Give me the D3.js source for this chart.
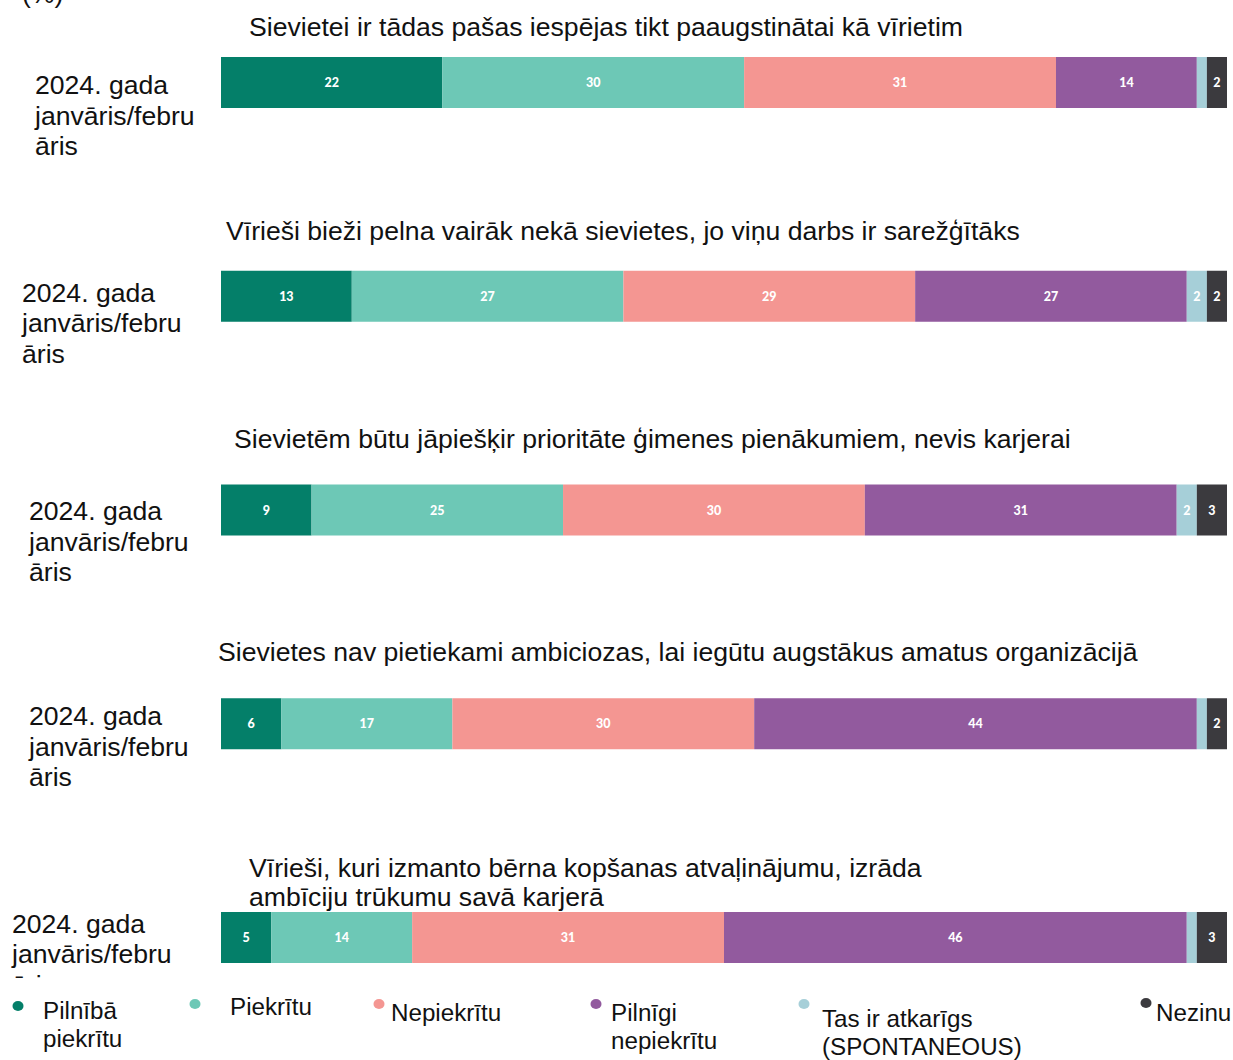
<!DOCTYPE html>
<html>
<head>
<meta charset="utf-8">
<script src="https://cdn.jsdelivr.net/npm/d3@7"></script>
<style>
  html, body { margin: 0; padding: 0; background: #fff; }
  svg { display: block; font-family: "Liberation Sans", Arial, sans-serif; }
</style>
</head>
<body>
<svg id="chart" width="1233" height="1060"></svg>
<script>
// Survey statements (one stacked bar each)
const statements = [
  ["Sievietei ir tādas pašas iespējas tikt paaugstinātai kā vīrietim"],
  ["Vīrieši bieži pelna vairāk nekā sievietes, jo viņu darbs ir sarežģītāks"],
  ["Sievietēm būtu jāpiešķir prioritāte ģimenes pienākumiem, nevis karjerai"],
  ["Sievietes nav pietiekami ambiciozas, lai iegūtu augstākus amatus organizācijā"],
  ["Vīrieši, kuri izmanto bērna kopšanas atvaļinājumu, izrāda", "ambīciju trūkumu savā karjerā"]
];
const periodLabel = ["2024. gada", "janvāris/febru", "āris"];
const unitLabel = "(%)";

// Answer categories (stack order)
const answers = [
  ["Pilnībā", "piekrītu"],
  ["Piekrītu"],
  ["Nepiekrītu"],
  ["Pilnīgi", "nepiekrītu"],
  ["Tas ir atkarīgs", "(SPONTANEOUS)"],
  ["Nezinu"]
];

// Shares (%) per statement, in answer order
const fullyAgree    = [22, 13,  9,  6,  5];
const agree         = [30, 27, 25, 17, 14];
const disagree      = [31, 29, 30, 30, 31];
const fullyDisagree = [14, 27, 31, 44, 46];
const depends       = [ 1,  2,  2,  1,  1];
const dontKnow      = [ 2,  2,  3,  2,  3];

const colors = ["#047f69", "#6dc8b6", "#f49692", "#925a9e", "#a6cfd8", "#3b3a3e"];

// Layout tweaks per row: title start x / baseline offset, period label x / baseline offset
const titleX   = [249, 226, 234, 218, 249];
const titleDy  = [-21, -31, -36, -37, -6];
const periodX  = [35, 22, 29, 29, 12];
const periodDy = [37, 31, 36, 27, 21];
// Legend item placement: dot x, dot y, text x, first baseline
const legendPos = [
  [18, 1006, 43, 1019],
  [195, 1004, 230, 1015],
  [379, 1004, 391, 1021],
  [596, 1004, 611, 1021],
  [804, 1004, 822, 1027],
  [1146, 1003, 1156, 1021]
];

const series = [fullyAgree, agree, disagree, fullyDisagree, depends, dontKnow];
const rows = statements.map((s, i) => {
  const r = { idx: i };
  series.forEach((v, k) => r["k" + k] = v[i]);
  return r;
});
const keys = series.map((_, k) => "k" + k);
const stacked = d3.stack().keys(keys)(rows);

const svg = d3.select("#chart");
const x = d3.scaleLinear().domain([0, 100]).range([221, 1227]);
const y = d3.scaleBand().domain(d3.range(statements.length)).range([57, 963])
  .paddingInner(0.7614).paddingOuter(0);
const fs = 26.6;

// Unit label (partly above the top edge)
svg.append("text").attr("x", 22).attr("y", 3).attr("font-size", fs).attr("fill", "#111").text(unitLabel);

// Clip for the area above the legend
svg.append("clipPath").attr("id", "plotClip")
  .append("rect").attr("x", 0).attr("y", 0).attr("width", 1233).attr("height", 979);

const plot = svg.append("g").attr("clip-path", "url(#plotClip)");

// Stacked bars
const layer = plot.selectAll("g.layer").data(stacked).join("g").attr("class", "layer")
  .attr("fill", (d, i) => colors[i]);
layer.selectAll("rect").data(d => d).join("rect")
  .attr("x", d => x(d[0]))
  .attr("y", d => y(d.data.idx))
  .attr("width", d => x(d[1]) - x(d[0]))
  .attr("height", y.bandwidth());

// Value labels inside segments
stacked.forEach((s, k) => {
  plot.selectAll(null).data(s.filter(d => d[1] - d[0] >= 2)).join("text")
    .attr("x", d => (x(d[0]) + x(d[1])) / 2)
    .attr("y", d => y(d.data.idx) + y.bandwidth() / 2)
    .attr("dy", "0.36em")
    .attr("text-anchor", "middle")
    .attr("font-family", "Lato, 'DejaVu Sans', sans-serif")
    .attr("font-weight", "900")
    .attr("font-size", 12.5)
    .attr("fill", "#fff")
    .text(d => d[1] - d[0]);
});

// Statement titles
statements.forEach((lines, i) => {
  const t = plot.append("text").attr("font-size", fs).attr("fill", "#111")
    .attr("x", titleX[i]).attr("y", y(i) + titleDy[i] - (lines.length - 1) * 29);
  lines.forEach((ln, j) => t.append("tspan").attr("x", titleX[i]).attr("dy", j ? 29 : 0).text(ln));
});

// Period labels left of the bars
statements.forEach((_, i) => {
  const t = plot.append("text").attr("font-size", fs).attr("fill", "#111")
    .attr("x", periodX[i]).attr("y", y(i) + periodDy[i]);
  periodLabel.forEach((ln, j) => t.append("tspan").attr("x", periodX[i]).attr("dy", j ? 30.5 : 0).text(ln));
});

// Legend
const lg = svg.append("g");
answers.forEach((lines, i) => {
  const [cx, cy, tx, ty] = legendPos[i];
  lg.append("ellipse").attr("cx", cx).attr("cy", cy).attr("rx", 5.5).attr("ry", 5).attr("fill", colors[i]);
  const t = lg.append("text").attr("font-size", 24.2).attr("fill", "#111").attr("x", tx).attr("y", ty);
  lines.forEach((ln, j) => t.append("tspan").attr("x", tx).attr("dy", j ? 28 : 0).text(ln));
});
</script>
</body>
</html>
